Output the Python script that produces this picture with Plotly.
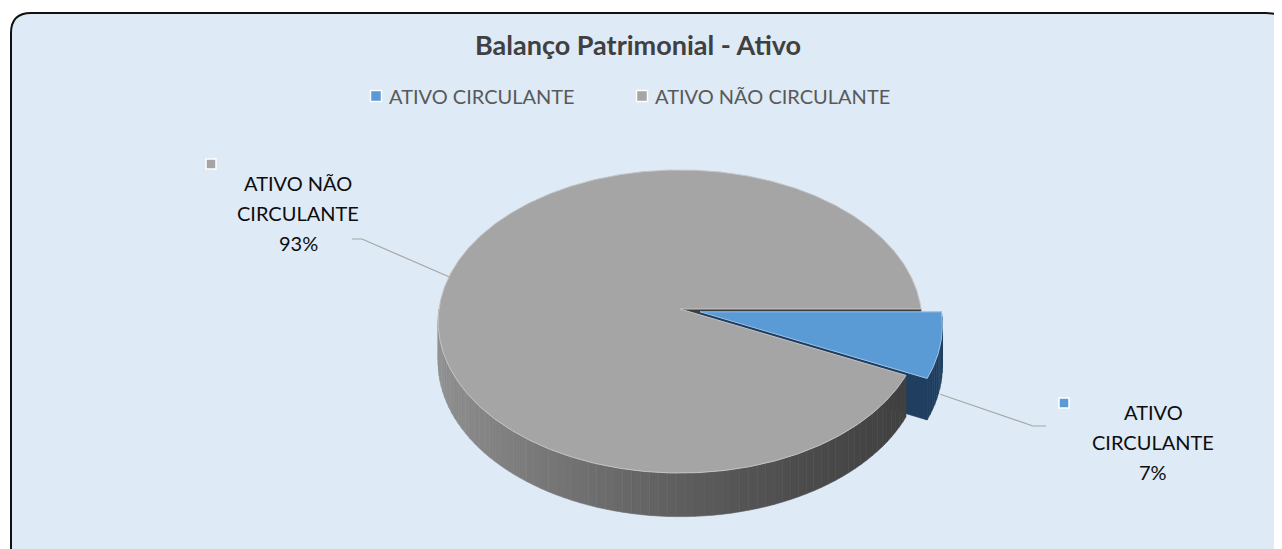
import numpy as np
import plotly.graph_objects as go

# ---- data ----
categories = ["ATIVO CIRCULANTE", "ATIVO NÃO CIRCULANTE"]
values = [7, 93]
label_lines = [["ATIVO", "CIRCULANTE"], ["ATIVO NÃO", "CIRCULANTE"]]
title_text = "Balanço Patrimonial - Ativo"

# ---- styles ----
top_colors = ["#5b9bd5", "#a5a5a5"]
side_colors = ["#203f60", "#3c3c3c"]
edge_colors = ["#9cc2e8", "#c4c4c4"]
bg_panel = "#deeaf6"
FONT = "Lato"

W, H = 1282, 549
PAGE_OFF = 8  # default body margin of the html page
CX, CY = 680, 309
A, B, D, K = 241, 150.5, 40, 0.0825
EXPLODE = [0.085, 0.0]


def proj(X, Z, h):
    s = 1.0 - K * Z
    return CX + A * X / s, CY + (B * Z + D * h) / s


def pt(t_deg, r, h, off):
    t = np.radians(t_deg)
    X = r * np.cos(t) + off[0]
    Z = r * np.sin(t) + off[1]
    return proj(X, Z, h)


total = float(sum(values))
angles = []
start = 0.0
for v in values:
    span = 360.0 * v / total
    angles.append((start, start + span))
    start += span

offsets = []
for i, (a0, a1) in enumerate(angles):
    mid = np.radians((a0 + a1) / 2)
    offsets.append((EXPLODE[i] * np.cos(mid), EXPLODE[i] * np.sin(mid)))

fig = go.Figure()


def poly(xs, ys, color, line_color=None, lw=0.6):
    fig.add_trace(go.Scatter(
        x=list(xs) + [xs[0]], y=list(ys) + [ys[0]], mode="lines", fill="toself",
        fillcolor=color, line=dict(color=line_color or color, width=lw),
        hoverinfo="skip", showlegend=False))


def radial_face(t_deg, off, color):
    p0 = pt(t_deg, 0, 0, off)
    p1 = pt(t_deg, 1, 0, off)
    p2 = pt(t_deg, 1, 1, off)
    p3 = pt(t_deg, 0, 1, off)
    poly([p0[0], p1[0], p2[0], p3[0]], [p0[1], p1[1], p2[1], p3[1]], color)


def gray_level(t):
    c = np.cos(np.radians(t))
    lv = int(64 + 82 * ((1 - c) / 2) ** 1.4)
    return "#%02x%02x%02x" % (lv, lv, lv)


def outer_wall(a0, a1, off, color_fn, step=2.0):
    lo, hi = max(a0, 0.0), min(a1, 180.0)
    if hi <= lo:
        return
    n = max(1, int(np.ceil((hi - lo) / step)))
    edges = np.linspace(lo, hi, n + 1)
    for j in range(n):
        ts = np.linspace(edges[j], edges[j + 1], 4)
        top = [pt(t, 1, 0, off) for t in ts]
        bot = [pt(t, 1, 1, off) for t in ts[::-1]]
        pts = top + bot
        col = color_fn((edges[j] + edges[j + 1]) / 2)
        poly([p[0] for p in pts], [p[1] for p in pts], col)


def top_face(a0, a1, off, color, edge):
    ts = np.linspace(a0, a1, max(8, int((a1 - a0) * 2)))
    pts = [pt(0, 0, 0, off)] + [pt(t, 1, 0, off) for t in ts]
    poly([p[0] for p in pts], [p[1] for p in pts], color, edge, 1.0)


# background panel (rounded rectangle)
fig.add_shape(type="path", xref="x", yref="y", layer="below",
              path="M 11 33 Q 11 13 31 13 L 1266 13 Q 1286 13 1300 30 L 1300 570 L 31 570 Q 11 570 11 550 Z",
              fillcolor=bg_panel, line=dict(color="#111111", width=2))

# draw order for 3D look
bi, gi = 0, 1
radial_face(angles[gi][1], offsets[gi], side_colors[gi])          # gray face at 360°
radial_face(angles[bi][1], offsets[bi], side_colors[bi])          # blue cut face
outer_wall(angles[bi][0], angles[bi][1], offsets[bi], lambda t: side_colors[bi])
top_face(angles[bi][0], angles[bi][1], offsets[bi], top_colors[bi], edge_colors[bi])
outer_wall(angles[gi][0], angles[gi][1], offsets[gi], gray_level)
top_face(angles[gi][0], angles[gi][1], offsets[gi], top_colors[gi], edge_colors[gi])

# leader lines + data labels
label_pos = [(1153, 412), (298, 183)]
leader_anchor = [(1046, 426), (352, 239)]
leader_knee = [(1033, 426), (362, 239)]
leader_h = [1.2, 0.0]
marker_pos = [(1064, 403), (211, 164)]
for i in range(len(values)):
    a0, a1 = angles[i]
    tip = pt((a0 + a1) / 2, 1, leader_h[i], offsets[i])
    fig.add_trace(go.Scatter(
        x=[tip[0], leader_knee[i][0], leader_anchor[i][0]],
        y=[tip[1], leader_knee[i][1], leader_anchor[i][1]],
        mode="lines", line=dict(color="#a6a6a6", width=1.2),
        hoverinfo="skip", showlegend=False))
    fig.add_trace(go.Scatter(
        x=[marker_pos[i][0]], y=[marker_pos[i][1]], mode="markers",
        marker=dict(symbol="square", size=10, color=top_colors[i],
                    line=dict(color="white", width=1.5)),
        hoverinfo="skip", showlegend=False))
    lines = label_lines[i] + ["%d%%" % round(100 * values[i] / total)]
    for j, ln in enumerate(lines):
        fig.add_annotation(x=label_pos[i][0], y=label_pos[i][1] + 30 * j, text=ln,
                           showarrow=False, xanchor="center", yanchor="middle",
                           font=dict(family=FONT, size=20, color="#0d0d0d"))

# legend
legend_x = [376, 642]
legend_y = 96
for i, cat in enumerate(categories):
    fig.add_trace(go.Scatter(
        x=[legend_x[i]], y=[legend_y], mode="markers",
        marker=dict(symbol="square", size=11, color=top_colors[i],
                    line=dict(color="white", width=1.5)),
        hoverinfo="skip", showlegend=False))
    fig.add_annotation(x=legend_x[i] + 11, y=legend_y, text=cat, showarrow=False,
                       xanchor="left", yanchor="middle",
                       font=dict(family=FONT, size=20, color="#595959"))

# title
fig.add_annotation(x=638, y=44, text="<b>%s</b>" % title_text, showarrow=False,
                   xanchor="center", yanchor="middle",
                   font=dict(family=FONT, size=27, color="#404040"))

fig.update_layout(
    width=W, height=H, margin=dict(l=0, r=0, t=0, b=0),
    paper_bgcolor="white", plot_bgcolor="rgba(0,0,0,0)",
    xaxis=dict(range=[PAGE_OFF, W + PAGE_OFF], visible=False, fixedrange=True),
    yaxis=dict(range=[H + PAGE_OFF, PAGE_OFF], visible=False, fixedrange=True),
    showlegend=False,
)
fig.write_html("out.html")
